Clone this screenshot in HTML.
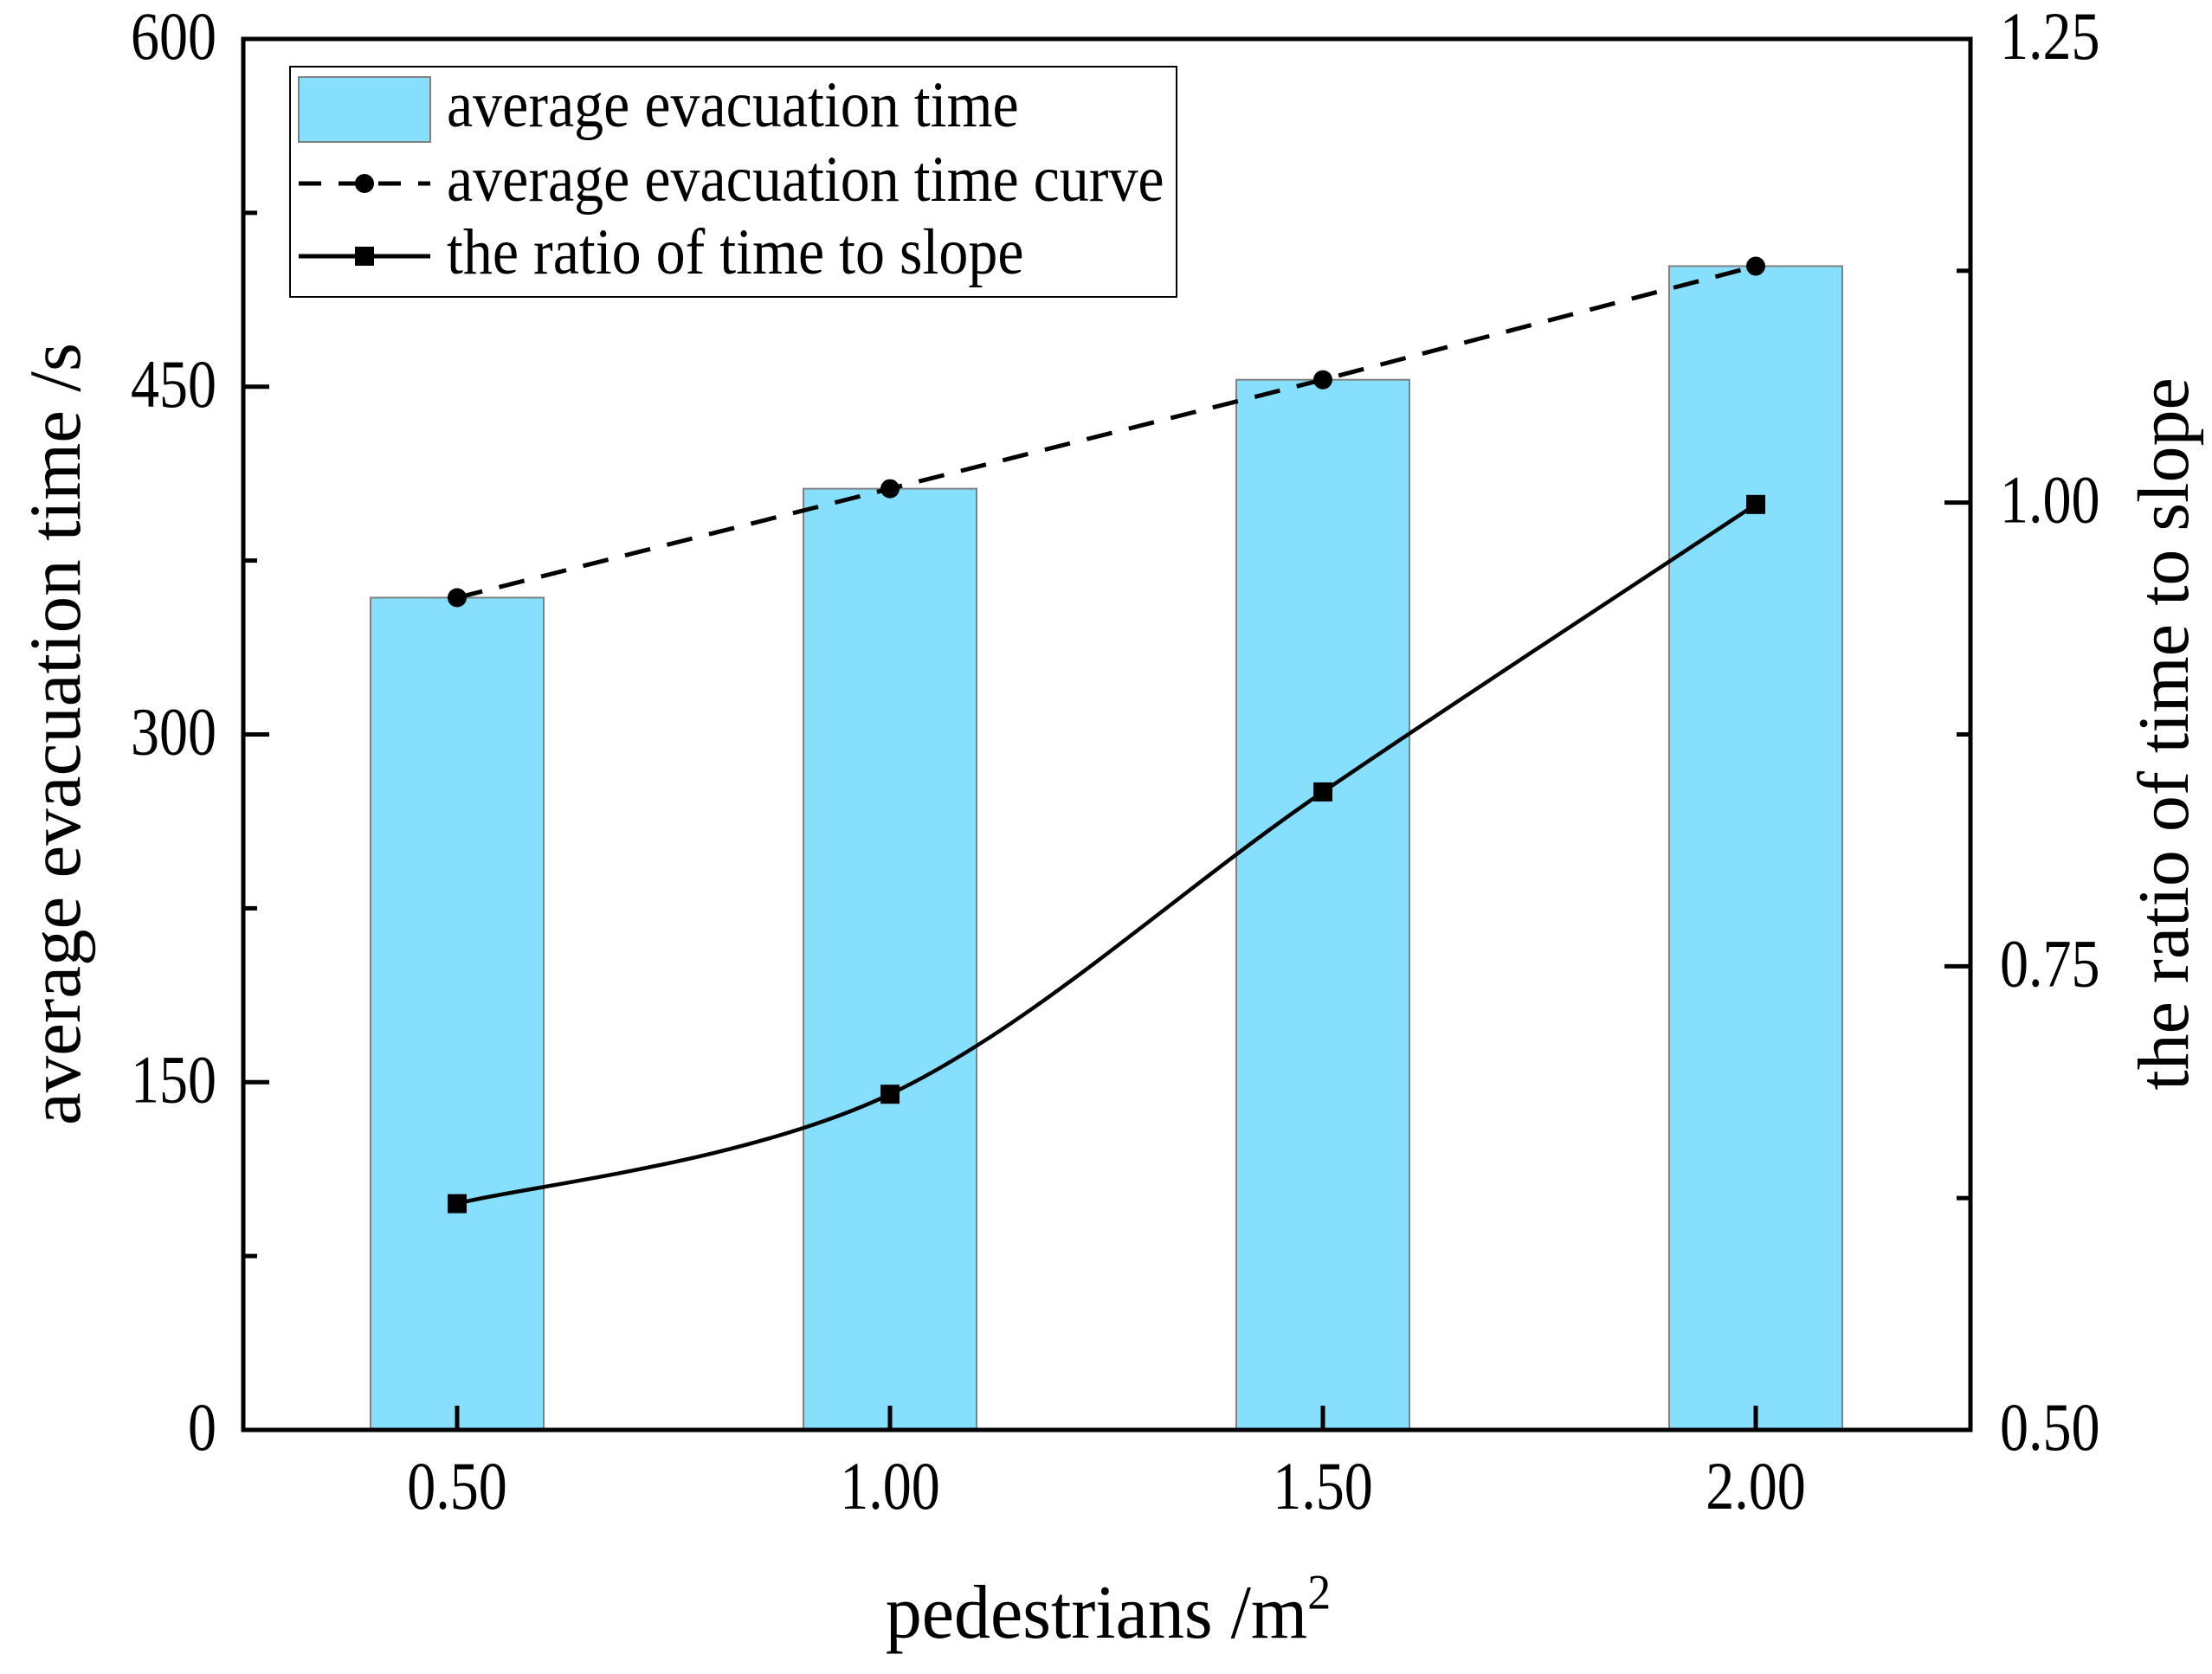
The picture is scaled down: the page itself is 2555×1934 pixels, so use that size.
<!DOCTYPE html>
<html><head><meta charset="utf-8"><style>
html,body{margin:0;padding:0;background:#fff}
svg{display:block;font-family:"Liberation Serif",serif}
</style></head><body>
<svg id="chart" width="2555" height="1934" viewBox="0 0 2555 1934" xmlns="http://www.w3.org/2000/svg"></svg>
<script>
const categories = [0.5, 1.0, 1.5, 2.0];
const xTickLabels = ["0.50", "1.00", "1.50", "2.00"];
const evacTimes = [359, 406, 453, 502];
const ratioValues = [0.622, 0.681, 0.844, 0.999];
const leftTicks = [0, 150, 300, 450, 600];
const leftMinor = [75, 225, 375, 525];
const rightTicks = [0.5, 0.75, 1.0, 1.25];
const rightTickLabels = ["0.50", "0.75", "1.00", "1.25"];
const rightMinor = [0.625, 0.875, 1.125];

const svg = document.getElementById('chart');
const NS = 'http://www.w3.org/2000/svg';
const L = 281, R = 2276, T = 45, B = 1652;
const xS = v => 528 + (v - 0.5) * 1000;
const yL = v => B - v / 600 * (B - T);
const yR = v => B - (v - 0.5) / 0.75 * (B - T);
function mk(tag, attrs, parent) {
  const e = document.createElementNS(NS, tag);
  for (const k in attrs) e.setAttribute(k, attrs[k]);
  (parent || svg).appendChild(e);
  return e;
}
function label(x, y, anchor) {
  return mk('text', {transform: 'translate(' + x + ',' + y + ') scale(1,1.18)', 'text-anchor': anchor, 'font-size': 66});
}
categories.forEach((c, i) => {
  const b = mk('rect', {x: xS(c) - 100, y: yL(evacTimes[i]), width: 200, height: B - yL(evacTimes[i]), fill: '#86dffd', stroke: '#808080', 'stroke-width': 2});
  
  
});
const dpts = categories.map((c, i) => [xS(c), yL(evacTimes[i])]);
const dl = mk('polyline', {points: dpts.map(p => p.join(',')).join(' '), fill: 'none', stroke: '#000', 'stroke-width': 5, 'stroke-dasharray': '30,20'});


dpts.forEach((p, i) => {
  const m = mk('circle', {cx: p[0], cy: p[1], r: 11, fill: '#000'});
  
  
});
const rp = categories.map((c, i) => [xS(c), yR(ratioValues[i])]);
let d = 'M' + rp[0].join(',');
for (let i = 0; i < rp.length - 1; i++) {
  const p0 = rp[i - 1] || rp[i], p1 = rp[i], p2 = rp[i + 1], p3 = rp[i + 2] || rp[i + 1];
  const c1 = [p1[0] + (p2[0] - p0[0]) / 6, p1[1] + (p2[1] - p0[1]) / 6];
  const c2 = [p2[0] - (p3[0] - p1[0]) / 6, p2[1] - (p3[1] - p1[1]) / 6];
  d += ' C' + c1.join(',') + ' ' + c2.join(',') + ' ' + p2.join(',');
}
const rl = mk('path', {d: d, fill: 'none', stroke: '#000', 'stroke-width': 4.5});


rp.forEach((p, i) => {
  const m = mk('rect', {x: p[0] - 11, y: p[1] - 11, width: 22, height: 22, fill: '#000'});
  
  
});
const fr = mk('rect', {x: L, y: T, width: R - L, height: B - T, fill: 'none', stroke: '#000', 'stroke-width': 5});


leftTicks.forEach(v => {
  mk('line', {x1: L, x2: L + 30, y1: yL(v), y2: yL(v), stroke: '#000', 'stroke-width': 5});
  const t = label(250, yL(v) + 23, 'end');
  t.textContent = v;
  
  
});
leftMinor.forEach(v => mk('line', {x1: L, x2: L + 16, y1: yL(v), y2: yL(v), stroke: '#000', 'stroke-width': 5}));
rightTicks.forEach((v, i) => {
  mk('line', {x1: R - 30, x2: R, y1: yR(v), y2: yR(v), stroke: '#000', 'stroke-width': 5});
  const t = label(2310, yR(v) + 23, 'start');
  t.textContent = rightTickLabels[i];
  
  
});
rightMinor.forEach(v => mk('line', {x1: R - 16, x2: R, y1: yR(v), y2: yR(v), stroke: '#000', 'stroke-width': 5}));
categories.forEach((c, i) => {
  mk('line', {x1: xS(c), x2: xS(c), y1: B, y2: B - 28, stroke: '#000', 'stroke-width': 5});
  const t = label(xS(c), 1743, 'middle');
  t.textContent = xTickLabels[i];
  
  
});
</script>
<svg style="position:absolute;left:0;top:0" width="2555" height="1934">
  <text transform="translate(92,848) rotate(-90)" text-anchor="middle" font-family="Liberation Serif, serif" font-size="85">average evacuation time /s</text>
  <text transform="translate(2527,848) rotate(-90)" text-anchor="middle" font-family="Liberation Serif, serif" font-size="84">the ratio of time to slope</text>
  <text transform="translate(1280,1892) scale(1,1.05)" text-anchor="middle" font-family="Liberation Serif, serif" font-size="84">pedestrians /m<tspan dy="-32" font-size="54">2</tspan></text>
  <g font-family="Liberation Serif, serif" font-size="68">
    <rect x="335" y="77" width="1024" height="266" fill="#fff" stroke="#000" stroke-width="2"/>
    <rect x="345" y="89" width="152" height="75" fill="#86dffd" stroke="#808080" stroke-width="2"/>
    <text transform="translate(516,146) scale(1,1.1)">average evacuation time</text>
    <line x1="345" x2="497" y1="212" y2="212" stroke="#000" stroke-width="5" stroke-dasharray="26,20"/>
    <circle cx="421" cy="212" r="11" fill="#000"/>
    <text transform="translate(516,232) scale(1,1.1)">average evacuation time curve</text>
    <line x1="345" x2="497" y1="296" y2="296" stroke="#000" stroke-width="5"/>
    <rect x="410" y="285" width="22" height="22" fill="#000"/>
    <text transform="translate(516,316) scale(1,1.1)">the ratio of time to slope</text>
  </g>
</svg>
</body></html>
